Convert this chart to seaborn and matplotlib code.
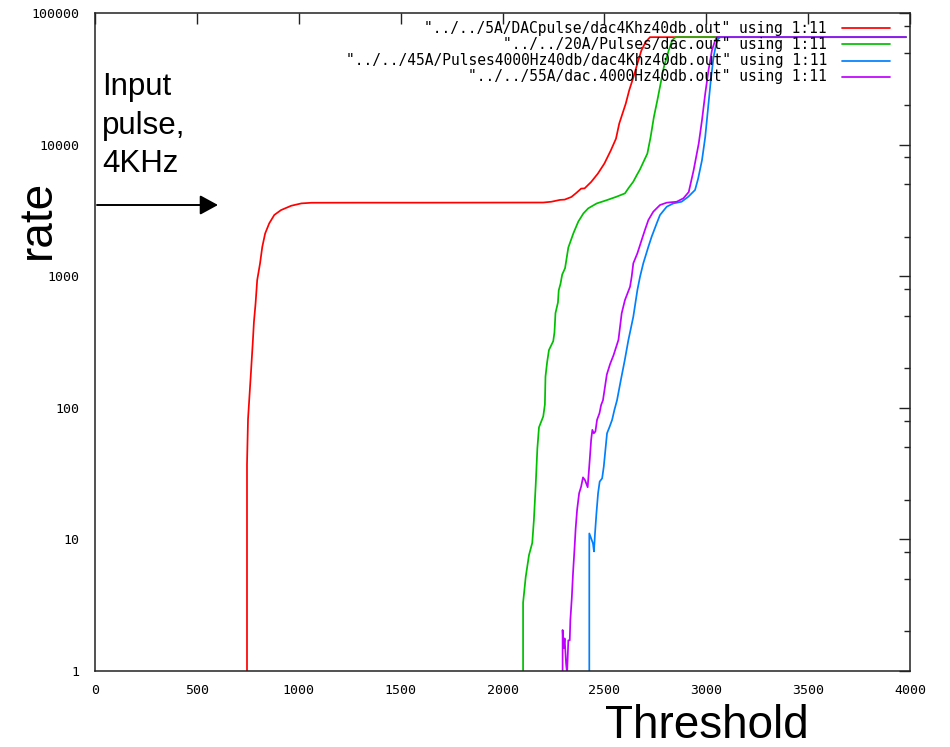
import matplotlib
matplotlib.use("Agg")
import matplotlib.pyplot as plt
from matplotlib.lines import Line2D
from matplotlib.ticker import FixedLocator, NullFormatter
import numpy as np
import pandas as pd
import seaborn as sns

# ---- data: threshold scan, rate vs threshold (column 11 of each file) ----
files = [
    '"../../5A/DACpulse/dac4Khz40db.out" using 1:11',
    '"../../20A/Pulses/dac.out" using 1:11',
    '"../../45A/Pulses4000Hz40db/dac4Khz40db.out" using 1:11',
    '"../../55A/dac.4000Hz40db.out" using 1:11',
]
colors = ["#ff0000", "#00c000", "#0080ff", "#c000ff"]

thr_5A = [740, 746, 751, 766, 775, 780, 788, 796, 810, 821, 835, 855, 880, 913,
          963, 1013, 1063, 1300, 1600, 1900, 2200, 2240, 2282, 2305, 2338, 2362,
          2386, 2403, 2435, 2468, 2500, 2532, 2557, 2573, 2589, 2605, 2622, 2643,
          2662, 2682, 2703, 2724, 3980]
rate_5A = [0, 37, 82, 192, 326, 449, 620, 933, 1250, 1670, 2110, 2520, 2920, 3180,
           3430, 3575, 3615, 3620, 3620, 3625, 3630, 3680, 3800, 3820, 4000, 4290,
           4630, 4650, 5200, 6020, 7180, 9060, 11100, 14460, 17220, 20500, 25900,
           32700, 41200, 52100, 60300, 65535, 65535]

thr_20A = [2095, 2101, 2114, 2130, 2146, 2154, 2163, 2171, 2179, 2200, 2208, 2211,
           2219, 2228, 2249, 2255, 2260, 2272, 2276, 2285, 2293, 2307, 2323, 2348,
           2372, 2397, 2421, 2462, 2511, 2560, 2601, 2618, 2642, 2660, 2675, 2691,
           2711, 2727, 2743, 2760, 2776, 2792, 2816, 2833, 2849, 3980]
rate_20A = [0, 3.3, 5.2, 7.6, 9.4, 14, 26, 49, 71, 86, 106, 173,
            222, 275, 321, 374, 524, 630, 781, 880, 1030, 1150, 1650, 2120,
            2600, 3000, 3280, 3570, 3780, 4020, 4260, 4660, 5230, 5900, 6490, 7340,
            8550, 11440, 16220, 21710, 29100, 38900, 52100, 62100, 65535, 65535]

thr_45A = [2424, 2426, 2435, 2444, 2449, 2454, 2461, 2469, 2477, 2489, 2497, 2505,
           2513, 2526, 2538, 2549, 2562, 2580, 2600, 2618, 2642, 2662, 2675, 2691,
           2716, 2732, 2757, 2773, 2806, 2838, 2879, 2912, 2945, 2960, 2979, 2995,
           3011, 3024, 3036, 3049, 3060, 3068, 3980]
rate_45A = [0, 11.1, 10.2, 9.3, 8.1, 11.1, 15.8, 22.4, 27.5, 29.1, 35.7, 47.8,
            64, 72, 81, 96, 114, 160, 230, 328, 492, 785, 991, 1253,
            1675, 1995, 2524, 2918, 3373, 3573, 3680, 4018, 4520, 5500, 7600, 11430,
            20500, 32700, 46300, 58500, 63800, 65535, 65535]

thr_55A = [2293, 2295, 2300, 2305, 2312, 2317, 2323, 2330, 2333, 2340, 2346, 2353,
           2359, 2366, 2376, 2386, 2395, 2405, 2418, 2428, 2435, 2441, 2448, 2456,
           2464, 2476, 2484, 2493, 2512, 2528, 2545, 2569, 2585, 2601, 2626, 2634,
           2642, 2662, 2683, 2699, 2716, 2740, 2773, 2806, 2855, 2888, 2914, 2938,
           2963, 2979, 2995, 3011, 3028, 3044, 3052, 3980]
rate_55A = [0, 2.05, 1.49, 1.77, 1.14, 0.95, 1.71, 1.71, 2.44, 3.57, 5.5, 8.3,
            12.1, 16.7, 22.4, 25.2, 29.6, 28.2, 24.9, 40, 57, 68, 64, 66,
            81, 91, 105, 114, 179, 215, 251, 328, 523, 659, 832, 991,
            1253, 1493, 1884, 2244, 2673, 3092, 3475, 3620, 3680, 3910, 4360, 6380,
            10180, 15300, 24400, 36700, 52100, 62100, 65535, 65535]

x_ticks = [0, 500, 1000, 1500, 2000, 2500, 3000, 3500, 4000]
y_ticks = [1, 10, 100, 1000, 10000, 100000]
y_minor = [m * 10 ** e for e in range(5) for m in (2, 5, 8)]

series = [(thr_5A, rate_5A), (thr_20A, rate_20A), (thr_45A, rate_45A), (thr_55A, rate_55A)]
df = pd.concat(
    [pd.DataFrame({"threshold": t, "rate": r, "source": f}) for (t, r), f in zip(series, files)],
    ignore_index=True,
)

# ---- figure ----
sns.set_theme(style="white")
plt.rcParams["font.family"] = ["DejaVu Sans Mono"]
plt.rcParams["text.color"] = "black"

W, H = 950, 747
fig = plt.figure(figsize=(W / 100, H / 100), dpi=100)
fig.patch.set_facecolor("white")
ax = fig.add_axes([95 / W, 1 - 671 / H, 815 / W, 658 / H])

sns.lineplot(data=df, x="threshold", y="rate", hue="source", hue_order=files,
             palette=colors, estimator=None, sort=False, legend=False,
             linewidth=1.25, ax=ax)

ax.set_yscale("log")
ax.set_xlim(0, 4000)
ax.set_ylim(1, 100000)
ax.set_xlabel("")
ax.set_ylabel("")

ax.set_xticks(x_ticks)
ax.set_xticklabels([str(v) for v in x_ticks])
ax.yaxis.set_major_locator(FixedLocator(y_ticks))
ax.set_yticklabels([str(v) for v in y_ticks])
ax.yaxis.set_minor_locator(FixedLocator(y_minor))
ax.yaxis.set_minor_formatter(NullFormatter())

ax.tick_params(axis="both", which="both", direction="in", top=True, right=True,
               colors="#222222", labelcolor="black")
ax.tick_params(axis="both", which="major", length=8, width=1.0, labelsize=9.5)
ax.tick_params(axis="y", which="minor", length=4, width=1.0)
ax.tick_params(axis="x", which="major", pad=9)
ax.tick_params(axis="y", which="major", pad=11)
for sp in ax.spines.values():
    sp.set_color("#222222")
    sp.set_linewidth(1.1)

# ---- key: right-aligned text followed by a line sample ----
key_rows = [28.3, 44.3, 60.7, 76.7]
for label, col, yp in zip(files, colors, key_rows):
    fig.text(827 / W, 1 - yp / H, label, ha="right", va="center", fontsize=10.5,
             family="DejaVu Sans Mono", color="black")
    fig.add_artist(Line2D([842 / W, 890 / W], [1 - yp / H, 1 - yp / H],
                          transform=fig.transFigure, color=col, lw=1.25))

# ---- axis titles ----
sans = ["Liberation Sans", "DejaVu Sans"]
fig.text(605 / W, 1 - 738 / H, "Threshold", ha="left", va="baseline",
         fontsize=33, family=sans, color="black")
fig.text(50 / W, 1 - 219 / H, "rate", rotation=90, rotation_mode="anchor",
         ha="center", va="baseline", fontsize=33, family=sans, color="black")

# ---- input pulse annotation ----
for txt, base in zip(["Input", "pulse,", "4KHz"], [95, 134, 172]):
    fig.text(102 / W, 1 - base / H, txt, ha="left", va="baseline",
             fontsize=22.5, family=sans, color="black")
ax.annotate("", xy=(218 / W, 1 - 205 / H), xytext=(97 / W, 1 - 205 / H),
            xycoords="figure fraction", textcoords="figure fraction",
            arrowprops=dict(arrowstyle="-|>,head_length=0.55,head_width=0.3",
                            color="black", lw=1.4, mutation_scale=20,
                            shrinkA=0, shrinkB=0))

fig.savefig("out.png", dpi=100, facecolor="white")
